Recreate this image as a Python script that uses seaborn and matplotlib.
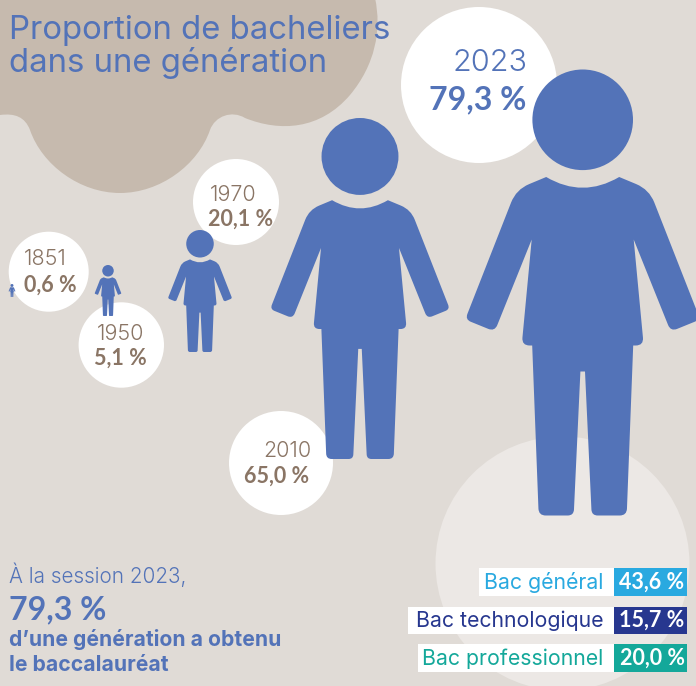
import matplotlib
matplotlib.use("Agg")
import matplotlib.pyplot as plt
import numpy as np
import pandas as pd
import seaborn as sns
from matplotlib.patches import PathPatch, Rectangle
from matplotlib.path import Path
from matplotlib.transforms import Affine2D

# data
years = ["1851", "1950", "1970", "2010", "2023"]
rates = ["0,6 %", "5,1 %", "20,1 %", "65,0 %", "79,3 %"]
bac_names = ["Bac général", "Bac technologique", "Bac professionnel"]
bac_rates = ["43,6 %", "15,7 %", "20,0 %"]

# layout, in pixels of the reference
person_x = [12, 108, 200, 360, 582.7]
person_top = [284, 265, 230, 118, 69.5]
person_h = [13, 51, 122, 341, 446]
circle_x = [48.7, 121.3, 236, 281, 479, 562]
circle_y = [271.7, 345, 202, 463, 85, 563]
circle_r = [40, 42.7, 43, 52, 78, 127]
circle_kind = ["w", "w", "w", "w", "w", "pale"]
year_xy = [(45, 259), (120, 334), (233, 195), (287, 451), (490, 63)]
rate_xy = [(50, 285), (120, 358), (241, 219), (277, 476), (478, 100)]
bac_left = [479, 408, 418]
bac_top = [568, 606.7, 644.3]

BG = "#E0DBD6"
BLOB = "#C6BAAE"
BLUE = "#5373B8"
BROWN = "#8A7565"
bac_cols = ["#29A9E0", "#27378F", "#14A89A"]
FONT = "Inter"
BOLD = "Lato"

sns.set_theme(style="white")
plt.rcParams["font.family"] = [FONT, "DejaVu Sans"]


def rounded(points):
    # closed outline, each point is x, y, corner radius
    verts, codes = [], []
    n = len(points)
    for i, (x, y, r) in enumerate(points):
        p = np.array([x, y], float)
        a = np.array(points[i - 1][:2], float)
        b = np.array(points[(i + 1) % n][:2], float)
        if r == 0:
            verts.append(p)
            codes.append(Path.MOVETO if i == 0 else Path.LINETO)
            continue
        p1 = p + (a - p) / np.linalg.norm(a - p) * r
        p2 = p + (b - p) / np.linalg.norm(b - p) * r
        verts += [p1, p, p2]
        codes += [Path.MOVETO if i == 0 else Path.LINETO, Path.CURVE3, Path.CURVE3]
    verts.append(verts[0])
    codes.append(Path.CLOSEPOLY)
    return verts, codes


# person outline, drawn at 446 px tall, x from the middle, y from the top
half = [
    (36.5, 107.5, 0), (66.5, 120, 14), (117.5, 250, 6), (88, 262, 7), (51, 170, 0),
    (61, 276, 8), (50.5, 276, 0), (44, 446, 7), (9, 446, 6), (2.3, 302, 0),
]
other = [(-x, y, r) for x, y, r in half[::-1]]
v, c = rounded(half + other)
# swap the straight neck for the curved collar
v = v[:-1] + [np.array([0, 129.0]), np.array(half[0][:2], float)]
c = c[:-1] + [Path.CURVE3, Path.CURVE3]
head = Path.circle((0, 50.3), 50.3)
person = Path.make_compound_path(Path(v, c), head)

fig = plt.figure(figsize=(6.96, 6.86), dpi=100, facecolor=BG)
ax = fig.add_axes([0, 0, 1, 1])
ax.set_xlim(0, 696)
ax.set_ylim(686, 0)
ax.axis("off")

blob = Path(
    [(0, -2), (0, 115), (15, 113), (25, 117), (30, 130), (42, 165), (80, 193), (120, 193),
     (160, 193), (198, 165), (210, 130), (215, 116), (232, 110), (245, 118),
     (280, 132), (320, 130), (350, 95), (375, 65), (382, 30), (375, -2), (0, -2)],
    [Path.MOVETO, Path.LINETO] + [Path.CURVE4] * 18 + [Path.CLOSEPOLY],
)
ax.add_patch(PathPatch(blob, fc=BLOB, ec="none", zorder=1))

# circles, size in points squared
df = pd.DataFrame({"x": circle_x, "y": circle_y, "kind": circle_kind,
                   "area": [(2 * r * 0.72) ** 2 for r in circle_r]})
for kind, col, z in [("pale", "#ECE8E5", 2), ("w", "white", 3)]:
    part = df[df["kind"] == kind]
    sns.scatterplot(data=part, x="x", y="y", s=part["area"].values, color=col,
                    linewidth=0, legend=False, ax=ax, zorder=z)
ax.set_xlim(0, 696)
ax.set_ylim(686, 0)

for x0, top, h in zip(person_x, person_top, person_h):
    k = h / 446
    tr = Affine2D().scale(k).translate(x0, top) + ax.transData
    ax.add_patch(PathPatch(person, fc=BLUE, ec="none", transform=tr, zorder=4))

for i, (yr, rate) in enumerate(zip(years, rates)):
    last = i == len(years) - 1
    col = BLUE if last else BROWN
    ax.text(*year_xy[i], yr, color=col, fontsize=22 if last else 15.5, fontweight=300,
            ha="center", va="center", zorder=5)
    ax.text(*rate_xy[i], rate, color=col, fontsize=23 if last else 15.5, fontweight="bold",
            family=BOLD, ha="center", va="center", zorder=5)

ax.text(9, 30, "Proportion de bacheliers", color=BLUE, fontsize=23.7, va="center", zorder=5)
ax.text(9, 63, "dans une génération", color=BLUE, fontsize=23.7, va="center", zorder=5)

ax.text(9, 575, "À la session 2023,", color=BLUE, fontsize=14.9, fontweight=300, va="center", zorder=5)
ax.text(9, 610, "79,3 %", color=BLUE, fontsize=23, fontweight="bold", family=BOLD, va="center", zorder=5)
ax.text(9, 640, "d’une génération a obtenu", color=BLUE, fontsize=15.2, fontweight="bold", va="center", zorder=5)
ax.text(9, 665, "le baccalauréat", color=BLUE, fontsize=15.2, fontweight="bold", va="center", zorder=5)

for name, val, col, left, top in zip(bac_names, bac_rates, bac_cols, bac_left, bac_top):
    ax.add_patch(Rectangle((left, top), 613.5 - left, 27.5, fc="white", ec="none", zorder=5))
    ax.add_patch(Rectangle((613.5, top), 73.5, 27.5, fc=col, ec="none", zorder=5))
    ax.text(603, top + 14.5, name, color=col, fontsize=15.3, ha="right", va="center", zorder=6)
    ax.text(652, top + 14, val, color="white", fontsize=15.5, fontweight="bold", family=BOLD,
            ha="center", va="center", zorder=6)

fig.savefig("out.png", dpi=100, facecolor=BG)
plt.close(fig)
